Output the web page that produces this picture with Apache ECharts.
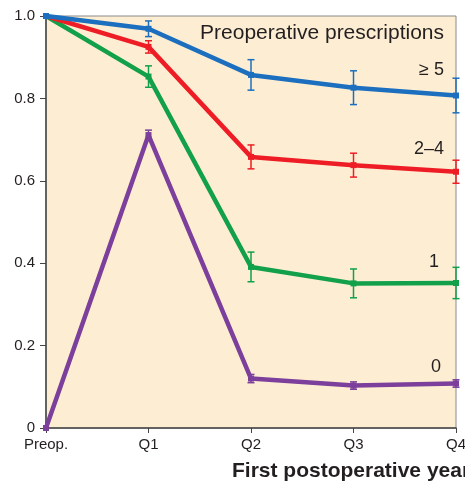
<!DOCTYPE html>
<html><head><meta charset="utf-8">
<script src="https://cdn.jsdelivr.net/npm/echarts@6/dist/echarts.min.js"></script>
<style>html,body{margin:0;padding:0;background:#fff}#c{width:465px;height:481px}</style>
</head><body><div id="c"></div>
<script>
const categories = ['Preop.', 'Q1', 'Q2', 'Q3', 'Q4'];
const yTicks = [0, 0.2, 0.4, 0.6, 0.8, 1.0];
const ge5 = [1.0, 0.969, 0.857, 0.826, 0.807];
const ge5Err = [0, 0.019, 0.037, 0.041, 0.042];
const g24 = [1.0, 0.925, 0.658, 0.638, 0.622];
const g24Err = [0, 0.015, 0.029, 0.029, 0.028];
const g1 = [1.0, 0.853, 0.391, 0.351, 0.352];
const g1Err = [0, 0.026, 0.036, 0.035, 0.038];
const g0 = [0, 0.711, 0.120, 0.103, 0.108];
const g0Err = [0, 0.012, 0.010, 0.009, 0.009];
const groupNames = ['≥ 5', '2–4', '1', '0'];
const colors = ['#1c6fbe', '#ee1d25', '#12a04b', '#7c3f9b'];

const chart = echarts.init(document.getElementById('c'), null, {renderer: 'canvas'});
const vals = [ge5, g24, g1, g0];
const errs = [ge5Err, g24Err, g1Err, g0Err];
const series = [];
vals.forEach((v, i) => {
  series.push({
    type: 'custom', name: groupNames[i] + ' err', z: 3,
    data: v.map((y, k) => [k, y - errs[i][k], y + errs[i][k]]).filter((d, k) => errs[i][k] > 0),
    renderItem: function (params, api) {
      const lo = api.coord([api.value(0), api.value(1)]);
      const hi = api.coord([api.value(0), api.value(2)]);
      const w = 3.5;
      const st = {stroke: colors[i], lineWidth: 1.5};
      return {type: 'group', children: [
        {type: 'line', shape: {x1: lo[0], y1: lo[1], x2: hi[0], y2: hi[1]}, style: st},
        {type: 'line', shape: {x1: lo[0] - w, y1: lo[1], x2: lo[0] + w, y2: lo[1]}, style: st},
        {type: 'line', shape: {x1: hi[0] - w, y1: hi[1], x2: hi[0] + w, y2: hi[1]}, style: st}
      ]};
    }
  });
});
vals.forEach((v, i) => {
  series.push({
    type: 'line', name: groupNames[i], data: v, z: 2 + (4 - i) * 0.1,
    lineStyle: {color: colors[i], width: 4.5},
    itemStyle: {color: colors[i]},
    symbol: 'rect', symbolSize: 6, showSymbol: true
  });
});

const labFont = '"Liberation Sans", Arial, sans-serif';
chart.setOption({
  animation: false,
  grid: {left: 46, right: 9, top: 16, bottom: 53, outerBoundsMode: 'none', containLabel: false,
    show: true, backgroundColor: '#fdeed3', borderColor: '#8a8a8a', borderWidth: 1},
  xAxis: {
    type: 'category', data: categories, boundaryGap: false,
    axisLine: {lineStyle: {color: '#444', width: 1.5}},
    axisTick: {show: true, alignWithLabel: true, length: 5, lineStyle: {color: '#444'}},
    axisLabel: {color: '#231f20', fontSize: 15, fontFamily: labFont, margin: 9, showMaxLabel: true}
  },
  yAxis: {
    type: 'value', min: 0, max: 1, interval: 0.2,
    axisLine: {show: true, lineStyle: {color: '#444', width: 1.5}},
    axisTick: {show: true, length: 6, lineStyle: {color: '#444'}},
    splitLine: {show: false},
    axisLabel: {color: '#231f20', fontSize: 15, fontFamily: labFont, margin: 11,
      formatter: v => (v === 0 ? '0' : yTicks.find(t => Math.abs(t - v) < 1e-9).toFixed(1))}
  },
  graphic: [
    {type: 'text', right: 21, top: 23, style: {text: 'Preoperative prescriptions', font: '21px ' + labFont, fill: '#231f20'}},
    {type: 'text', right: 21, top: 61, style: {text: groupNames[0], font: '18px ' + labFont, fill: '#231f20'}},
    {type: 'text', right: 21, top: 140, style: {text: groupNames[1], font: '18px ' + labFont, fill: '#231f20'}},
    {type: 'text', right: 26, top: 253, style: {text: groupNames[2], font: '18px ' + labFont, fill: '#231f20'}},
    {type: 'text', right: 24, top: 358, style: {text: groupNames[3], font: '18px ' + labFont, fill: '#231f20'}},
    {type: 'text', left: 232, top: 461, style: {text: 'First postoperative year', font: 'bold 21px ' + labFont, fill: '#231f20'}}
  ],
  series: series
});
</script></body></html>
